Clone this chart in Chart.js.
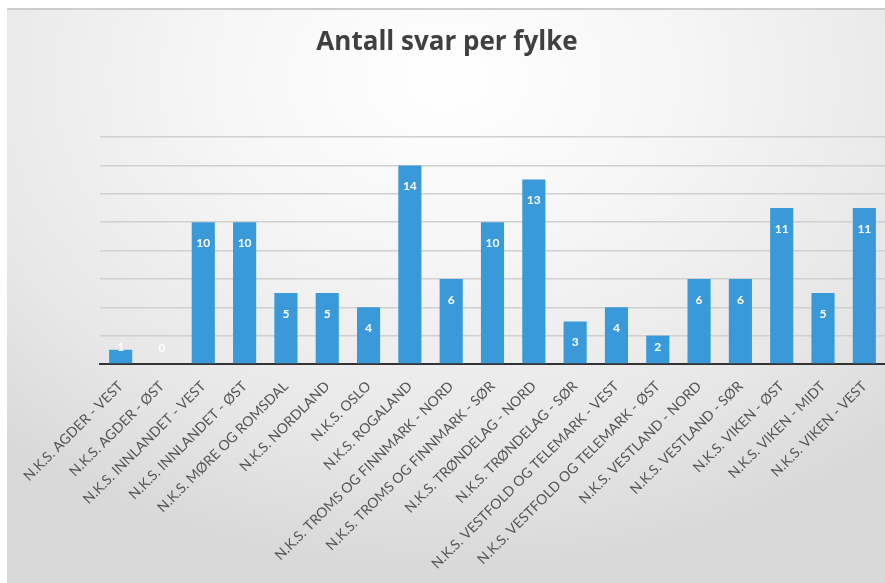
<!DOCTYPE html>
<html>
<head>
<meta charset="utf-8">
<script src="https://cdn.jsdelivr.net/npm/chart.js@4/dist/chart.umd.min.js"></script>
<style>
  html, body { margin: 0; padding: 0; background: #fff; }
  #wrap { position: relative; width: 885px; height: 583px; overflow: hidden; }
  #bg {
    position: absolute; left: 7px; top: 8px; right: 0; bottom: 0;
    border-top: 2px solid #cdcdcd;
    background: radial-gradient(ellipse 75% 85% at 50% 12%, #ffffff 0%, #f6f6f6 35%, #e7e7e7 75%, #d9d9d9 100%);
  }
  canvas { position: absolute; left: 0; top: 0; }
</style>
</head>
<body>
<div id="wrap">
  <div id="bg"></div>
  <canvas id="c" width="885" height="583"></canvas>
</div>
<script>
// categories and answers per county
const CATEGORIES = [
  'N.K.S. AGDER - VEST',
  'N.K.S. AGDER - ØST',
  'N.K.S. INNLANDET - VEST',
  'N.K.S. INNLANDET - ØST',
  'N.K.S. MØRE OG ROMSDAL',
  'N.K.S. NORDLAND',
  'N.K.S. OSLO',
  'N.K.S. ROGALAND',
  'N.K.S. TROMS OG FINNMARK - NORD',
  'N.K.S. TROMS OG FINNMARK - SØR',
  'N.K.S. TRØNDELAG - NORD',
  'N.K.S. TRØNDELAG - SØR',
  'N.K.S. VESTFOLD OG TELEMARK - VEST',
  'N.K.S. VESTFOLD OG TELEMARK - ØST',
  'N.K.S. VESTLAND - NORD',
  'N.K.S. VESTLAND - SØR',
  'N.K.S. VIKEN - ØST',
  'N.K.S. VIKEN - MIDT',
  'N.K.S. VIKEN - VEST'
];
const ANSWERS = [1, 0, 10, 10, 5, 5, 4, 14, 6, 10, 13, 3, 4, 2, 6, 6, 11, 5, 11];
const TITLE = 'Antall svar per fylke';
const Y_MAX = 16, Y_STEP = 2;

const BAR_COLOR = '#3a9ad9';

// title drawn by hand so it centres on the whole picture, not the plot
const titleText = {
  id: 'titleText',
  afterDraw(chart) {
    const ctx = chart.ctx;
    ctx.save();
    ctx.fillStyle = '#404040';
    ctx.font = 'bold 26px "Open Sans", sans-serif';
    ctx.textAlign = 'center';
    ctx.textBaseline = 'middle';
    ctx.fillText(TITLE, 447, 43);
    ctx.restore();
  }
};

// white value labels inside the top of each bar
const valueLabels = {
  id: 'valueLabels',
  afterDatasetsDraw(chart) {
    const ctx = chart.ctx;
    const meta = chart.getDatasetMeta(0);
    ctx.save();
    ctx.fillStyle = '#ffffff';
    ctx.font = 'bold 12px Lato, "Open Sans", sans-serif';
    ctx.textAlign = 'center';
    ctx.textBaseline = 'middle';
    meta.data.forEach((bar, i) => {
      const y = Math.min(bar.y + 21, bar.base - 16);
      ctx.fillText(String(ANSWERS[i]), bar.x, y);
    });
    ctx.restore();
  }
};

new Chart(document.getElementById('c').getContext('2d'), {
  type: 'bar',
  data: {
    labels: CATEGORIES,
    datasets: [{
      data: ANSWERS,
      backgroundColor: BAR_COLOR,
      borderWidth: 0,
      categoryPercentage: 1,
      barPercentage: 0.56
    }]
  },
  options: {
    responsive: false,
    animation: false,
    layout: { padding: { left: 100, right: 0, top: 137, bottom: 0 } },
    plugins: {
      legend: { display: false },
      tooltip: { enabled: false },
      title: { display: false }
    },
    scales: {
      x: {
        grid: { display: false },
        border: { display: true, color: '#333333', width: 2 },
        ticks: {
          color: '#555555',
          font: { family: 'Lato, "Open Sans", sans-serif', size: 14 },
          minRotation: 45,
          maxRotation: 45,
          autoSkip: false,
          padding: 6
        },
        afterFit: s => { s.height = 219; }
      },
      y: {
        min: 0,
        max: Y_MAX,
        ticks: { display: false, stepSize: Y_STEP },
        grid: { color: '#d0d0d0', lineWidth: 1.5, drawTicks: false },
        border: { display: false },
        afterFit: s => { s.width = 0; }
      }
    }
  },
  plugins: [valueLabels, titleText]
});
</script>
</body>
</html>
